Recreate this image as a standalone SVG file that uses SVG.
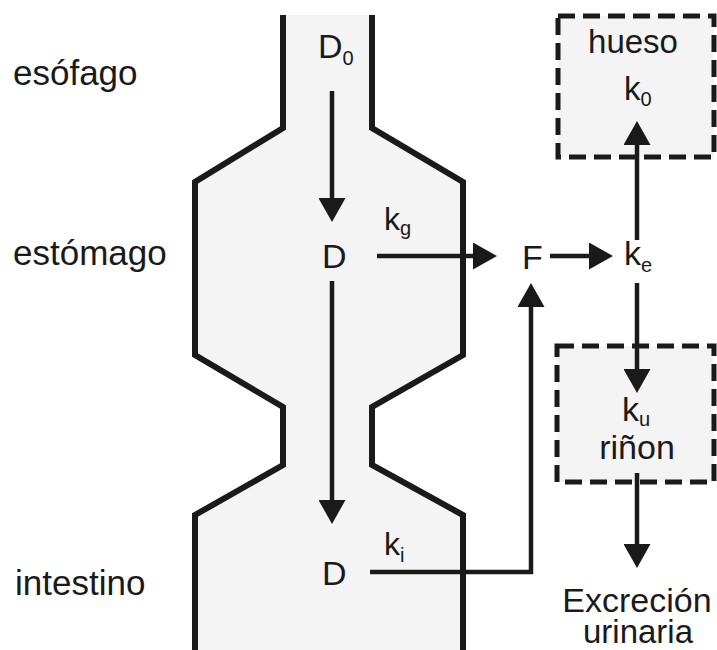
<svg xmlns="http://www.w3.org/2000/svg" width="717" height="650" viewBox="0 0 717 650">
<style>
  text { font-family: "Liberation Sans", Arial, sans-serif; fill: #1a1a1a; }
  .lbl { font-size: 35px; }
  .big { font-size: 34px; }
  .k { font-size: 32px; }
  .sub { font-size: 20px; }
  .wall { fill: none; stroke: #1a1a1a; stroke-width: 6; stroke-linejoin: miter; }
  .box { fill: #f4f4f4; stroke: #1a1a1a; stroke-width: 5; stroke-dasharray: 17 8; }
  .conn { fill: none; stroke: #1a1a1a; stroke-width: 4.5; marker-end: url(#ah); }
</style>
<defs>
  <marker id="ah" viewBox="0 0 24 27" markerUnits="userSpaceOnUse" markerWidth="24" markerHeight="27" refX="2" refY="13.5" orient="auto">
    <path d="M0,0 L24,13.5 L0,27 Z" fill="#1a1a1a"/>
  </marker>
</defs>
<rect width="717" height="650" fill="#ffffff"/>

<g id="tract">
  <path d="M283,15 L283,128 L195,182 L195,355 L283,407 L283,465 L195,515 L195,655 L463,655 L463,515 L372,465 L372,407 L463,355 L463,182 L372,128 L372,15 Z" fill="#f4f4f4" stroke="none"/>
  <path class="wall" d="M283,15 L283,128 L195,182 L195,355 L283,407 L283,465 L195,515 L195,655"/>
  <path class="wall" d="M372,15 L372,128 L463,182 L463,355 L372,407 L372,465 L463,515 L463,655"/>
</g>

<g id="labels">
  <text class="lbl" x="13" y="85">esófago</text>
  <text class="lbl" x="13" y="265">estómago</text>
  <text class="lbl" x="15" y="595">intestino</text>
</g>

<g id="node-D0">
  <text class="big" x="318" y="58">D<tspan class="sub" dy="7">0</tspan></text>
</g>
<g id="node-D-estomago">
  <text class="big" x="322" y="268">D</text>
</g>
<g id="node-D-intestino">
  <text class="big" x="322" y="585">D</text>
</g>
<g id="node-F">
  <text class="big" x="522" y="269">F</text>
</g>
<g id="node-ke">
  <text class="big" x="624" y="265">k<tspan class="sub" dy="7">e</tspan></text>
</g>
<g id="node-hueso">
  <rect class="box" x="558" y="16" width="156" height="141"/>
  <text class="big" x="633" y="53" text-anchor="middle" style="font-size:33px">hueso</text>
  <text class="big" x="624" y="100" style="font-size:33px">k<tspan class="sub" dy="6">0</tspan></text>
</g>
<g id="node-rinon">
  <rect class="box" x="557" y="346" width="157" height="136"/>
  <text class="big" x="622" y="421">k<tspan class="sub" dy="5">u</tspan></text>
  <text class="big" x="637" y="459" text-anchor="middle">riñon</text>
</g>
<g id="node-excrecion">
  <text class="lbl" x="637" y="612" text-anchor="middle" style="font-size:34px">Excreción</text>
  <text class="lbl" x="638" y="643" text-anchor="middle" style="font-size:33px">urinaria</text>
</g>

<g id="connectors">
  <line class="conn" x1="332" y1="91" x2="332" y2="200"/>
  <line class="conn" x1="332" y1="281" x2="332" y2="502"/>
  <line class="conn" x1="377" y1="256" x2="475" y2="256"/>
  <line class="conn" x1="550" y1="256" x2="591" y2="256"/>
  <path class="conn" d="M370,572 L531,572 L531,305"/>
  <line class="conn" x1="637" y1="240" x2="637" y2="143"/>
  <line class="conn" x1="637" y1="283" x2="637" y2="371"/>
  <line class="conn" x1="637" y1="473" x2="637" y2="546"/>
  <text class="k" x="384" y="230">k<tspan class="sub" dy="5">g</tspan></text>
  <text class="k" x="384" y="555">k<tspan class="sub" dy="7">i</tspan></text>
</g>
</svg>
